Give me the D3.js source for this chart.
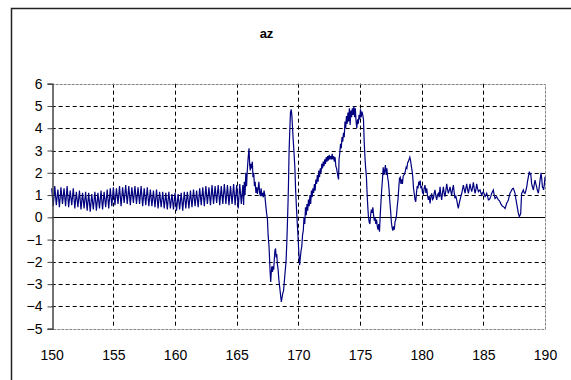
<!DOCTYPE html>
<html>
<head>
<meta charset="utf-8">
<script src="https://cdn.jsdelivr.net/npm/d3@7"></script>
<style>
  body { margin: 0; background: #fff; }
  svg { display: block; font-family: "Liberation Sans", Arial, sans-serif; }
</style>
</head>
<body>
<div id="app"></div>
<script>
// chart "az": acceleration trace, time 150..190
const title = "az"
const xTicks = [150, 155, 160, 165, 170, 175, 180, 185, 190]
const yTicks = [-5, -4, -3, -2, -1, 0, 1, 2, 3, 4, 5, 6]

const calmStart = 150
const calmStep = 0.125
const calmValues = [
  1.30,0.50,1.40,0.55,1.25,0.45,1.35,0.60,
  1.30,0.50,1.40,0.45,1.20,0.55,1.30,0.40,
  1.15,0.45,1.20,0.35,1.10,0.40,1.15,0.30,
  1.10,0.25,1.05,0.35,1.15,0.30,1.10,0.40,
  1.20,0.35,1.15,0.45,1.25,0.40,1.30,0.50,
  1.35,0.55,1.30,0.60,1.40,0.50,1.35,0.65,
  1.45,0.60,1.40,0.55,1.35,0.65,1.40,0.60,
  1.35,0.60,1.40,0.50,1.30,0.55,1.35,0.50,
  1.25,0.50,1.20,0.45,1.25,0.40,1.15,0.45,
  1.15,0.40,1.10,0.35,1.15,0.40,1.05,0.35,
  1.10,0.30,1.05,0.35,1.10,0.30,1.15,0.40,
  1.15,0.40,1.20,0.45,1.25,0.50,1.20,0.45,
  1.30,0.55,1.35,0.50,1.40,0.60,1.35,0.55,
  1.45,0.60,1.40,0.65,1.45,0.55,1.40,0.60,
  1.50,0.60,1.45,0.55,1.40,0.60,1.50,0.55,
  1.45,0.40,1.50,0.60
]

// the event part, [time, value]
const eventData = [
  [165.50,1.45],[165.56,0.55],[165.62,1.60],[165.68,1.00],[165.74,2.00],[165.80,1.40],
  [165.86,2.10],[165.92,2.60],[166.00,3.10],[166.05,2.40],[166.10,2.10],[166.15,2.40],
  [166.20,2.20],[166.27,2.50],[166.32,1.80],[166.38,2.00],[166.44,1.40],[166.50,1.60],
  [166.56,1.10],[166.62,1.35],[166.68,1.05],[166.74,1.30],[166.80,1.60],[166.86,1.10],
  [166.92,0.95],[166.98,1.30],[167.04,0.95],[167.10,1.10],[167.16,0.90],[167.22,1.20],
  [167.28,1.00],[167.34,0.65],[167.42,0.20],[167.49,-0.05],[167.55,-0.80],[167.62,-1.30],
  [167.67,-1.90],[167.71,-2.45],[167.76,-2.90],[167.80,-2.50],[167.85,-2.20],[167.90,-2.45],
  [167.95,-2.20],[168.00,-2.35],[168.05,-1.90],[168.10,-1.50],[168.15,-1.40],[168.20,-1.80],
  [168.25,-1.65],[168.30,-2.10],[168.36,-2.35],[168.42,-2.80],[168.50,-3.20],[168.56,-3.50],
  [168.62,-3.80],[168.68,-3.60],[168.74,-3.40],[168.80,-3.30],[168.86,-2.90],[168.92,-2.50],
  [169.00,-2.00],[169.06,-1.20],[169.11,-0.35],[169.16,0.60],[169.20,1.50],[169.25,3.00],
  [169.30,3.80],[169.36,4.70],[169.42,4.85],[169.47,4.60],[169.52,4.10],[169.58,3.50],
  [169.65,2.90],[169.72,2.20],[169.78,1.20],[169.85,0.40],[169.92,-0.35],[169.98,-0.90],
  [170.04,-1.60],[170.10,-2.15],[170.16,-1.80],[170.22,-1.50],[170.28,-1.30],[170.34,-0.80],
  [170.40,-0.60],[170.46,0.00],[170.52,-0.30],[170.58,0.45],[170.64,0.10],[170.70,0.60],
  [170.76,0.30],[170.82,0.80],[170.88,0.50],[170.94,1.00],[171.00,0.60],[171.06,1.20],
  [171.12,0.90],[171.18,1.30],[171.24,1.10],[171.30,1.50],[171.36,1.20],[171.42,1.70],
  [171.48,1.50],[171.54,1.90],[171.60,1.60],[171.66,2.10],[171.72,1.80],[171.78,2.20],
  [171.84,2.00],[171.90,2.40],[171.96,2.20],[172.02,2.50],[172.08,2.30],[172.14,2.60],
  [172.20,2.40],[172.26,2.70],[172.32,2.50],[172.38,2.75],[172.44,2.55],[172.50,2.80],
  [172.56,2.60],[172.62,2.75],[172.68,2.60],[172.74,2.85],[172.80,2.60],[172.86,2.75],
  [172.92,2.50],[172.98,2.70],[173.04,2.30],[173.10,2.20],[173.16,2.00],[173.22,1.80],
  [173.26,1.70],[173.30,2.60],[173.36,2.90],[173.42,3.30],[173.48,3.10],[173.54,3.60],
  [173.60,3.40],[173.66,3.80],[173.72,3.60],[173.78,4.30],[173.84,4.00],[173.90,4.55],
  [173.96,4.20],[174.02,4.70],[174.08,4.30],[174.14,4.90],[174.20,4.15],[174.26,4.80],
  [174.32,4.50],[174.38,4.90],[174.44,4.60],[174.50,5.00],[174.56,4.50],[174.62,4.90],
  [174.68,4.30],[174.74,4.00],[174.80,4.40],[174.86,4.20],[174.92,4.60],[174.98,4.40],
  [175.04,4.85],[175.10,4.50],[175.16,4.75],[175.22,4.60],[175.28,4.40],[175.34,3.40],
  [175.40,2.70],[175.46,2.20],[175.52,1.80],[175.58,1.00],[175.64,0.40],[175.68,0.05],
  [175.74,-0.20],[175.80,-0.30],[175.86,0.10],[175.92,0.35],[175.98,0.20],[176.04,0.45],
  [176.10,0.10],[176.16,-0.15],[176.22,0.00],[176.28,-0.30],[176.34,-0.10],[176.40,-0.40],
  [176.46,-0.55],[176.52,-0.30],[176.58,-0.65],[176.64,0.10],[176.70,0.70],[176.76,1.25],
  [176.82,1.70],[176.88,2.25],[176.94,1.90],[177.00,2.10],[177.06,2.35],[177.12,1.90],
  [177.18,2.20],[177.24,1.80],[177.30,1.60],[177.36,1.20],[177.42,0.70],[177.48,0.30],
  [177.54,-0.20],[177.60,-0.45],[177.66,-0.60],[177.72,-0.40],[177.78,-0.55],[177.84,-0.20],
  [177.90,-0.10],[177.96,0.10],[178.02,0.50],[178.08,0.80],[178.14,1.30],[178.20,1.75],
  [178.26,1.80],[178.32,1.50],[178.38,1.70],[178.44,1.50],[178.50,1.85],[178.56,1.90],
  [178.62,1.95],[178.68,2.10],[178.74,2.25],[178.80,2.20],[178.86,2.45],[178.92,2.50],
  [178.98,2.60],[179.04,2.70],[179.10,2.55],[179.16,2.30],[179.22,2.10],[179.28,1.80],
  [179.34,1.30],[179.40,1.05],[179.46,0.80],[179.52,0.70],[179.58,1.10],[179.64,1.40],
  [179.70,1.30],[179.76,1.60],[179.82,1.50],[179.88,1.65],[179.94,1.30],[180.00,1.40],
  [180.07,1.10],[180.14,1.05],[180.20,1.30],[180.27,1.45],[180.34,1.10],[180.41,1.30],
  [180.47,1.00],[180.54,0.78],[180.61,0.95],[180.68,0.63],[180.74,0.90],[180.81,1.08],
  [180.88,0.80],[180.95,0.85],[181.02,1.10],[181.08,1.23],[181.15,0.95],[181.22,0.78],
  [181.28,1.00],[181.35,1.08],[181.42,0.90],[181.49,1.37],[181.55,1.05],[181.62,0.78],
  [181.69,1.10],[181.76,1.37],[181.82,1.10],[181.89,0.93],[181.96,1.20],[182.03,1.50],
  [182.10,1.25],[182.16,1.08],[182.23,1.20],[182.30,1.37],[182.37,1.15],[182.43,1.00],
  [182.50,1.25],[182.57,1.45],[182.64,1.10],[182.70,0.85],[182.77,0.95],[182.84,0.78],
  [182.90,0.60],[182.97,0.40],[183.04,0.60],[183.11,0.78],[183.18,0.95],[183.25,1.08],
  [183.31,1.25],[183.38,1.45],[183.45,1.25],[183.52,1.08],[183.58,1.30],[183.65,1.50],
  [183.72,1.25],[183.79,1.08],[183.86,1.30],[183.92,1.50],[183.99,1.30],[184.06,1.15],
  [184.13,1.35],[184.19,1.57],[184.26,1.30],[184.33,1.08],[184.40,1.25],[184.46,1.50],
  [184.53,1.30],[184.60,1.15],[184.67,1.20],[184.73,1.23],[184.80,1.10],[184.87,1.00],
  [184.94,1.10],[185.00,1.15],[185.07,1.05],[185.14,0.93],[185.21,1.00],[185.27,1.08],
  [185.34,0.95],[185.41,0.78],[185.48,0.80],[185.54,0.85],[185.61,0.95],[185.68,1.08],
  [185.74,1.15],[185.81,1.23],[185.88,1.00],[185.95,0.85],[186.02,0.90],[186.08,0.93],
  [186.15,0.85],[186.22,0.78],[186.29,0.75],[186.35,0.70],[186.42,0.60],[186.49,0.55],
  [186.55,0.50],[186.62,0.48],[186.69,0.45],[186.76,0.40],[186.82,0.50],[186.89,0.63],
  [186.96,0.70],[187.03,0.78],[187.10,0.95],[187.16,1.08],[187.23,1.15],[187.30,1.23],
  [187.36,1.28],[187.43,1.30],[187.50,1.20],[187.57,1.08],[187.63,0.85],[187.70,0.63],
  [187.77,0.40],[187.84,0.18],[187.92,0.03],[187.98,0.10],[188.03,0.18],[188.07,0.70],
  [188.11,1.08],[188.18,1.15],[188.24,1.23],[188.31,1.10],[188.38,1.08],[188.45,1.20],
  [188.52,1.37],[188.58,1.60],[188.65,1.82],[188.73,2.05],[188.78,1.95],[188.84,1.97],
  [188.92,1.50],[188.99,1.35],[189.06,1.23],[189.12,1.45],[189.19,1.67],[189.26,1.50],
  [189.32,1.37],[189.39,1.20],[189.46,1.08],[189.53,1.35],[189.60,1.67],[189.68,2.00],
  [189.74,1.70],[189.79,1.37],[189.85,1.30],[189.89,1.23],[189.95,1.50],[190.00,1.82]
]

const series = calmValues.map((v, i) => [calmStart + i * calmStep, v]).concat(eventData)

const W = 571, H = 380
const svg = d3.select("#app").append("svg")
    .attr("width", W)
    .attr("height", H)

// outer chart frame
svg.append("rect")
    .attr("x", 11.5).attr("y", 8.5)
    .attr("width", 700).attr("height", 500)
    .attr("fill", "#fff")
    .attr("stroke", "#222")
    .attr("stroke-width", 1.5)

const x = d3.scaleLinear().domain([150, 190]).range([51.7, 545])
const y = d3.scaleLinear().domain([-5, 6]).range([328.7, 83.7])

svg.append("text")
    .attr("x", 266.5).attr("y", 38)
    .attr("text-anchor", "middle")
    .attr("font-size", 13)
    .attr("font-weight", "bold")
    .text(title)

// gridlines
const grid = svg.append("g")
grid.selectAll("line.h")
  .data(yTicks.filter(d => d !== 0 && d !== 6 && d !== -5))
  .join("line")
    .attr("class", "h")
    .attr("x1", x(150)).attr("x2", x(190))
    .attr("y1", d => Math.round(y(d)) + 0.5).attr("y2", d => Math.round(y(d)) + 0.5)
    .attr("stroke", "#000")
    .attr("stroke-dasharray", "4,3")
grid.selectAll("line.v")
  .data(xTicks.filter(d => d !== 150 && d !== 190))
  .join("line")
    .attr("class", "v")
    .attr("y1", y(6)).attr("y2", y(-5))
    .attr("x1", d => Math.round(x(d)) + 0.5).attr("x2", d => Math.round(x(d)) + 0.5)
    .attr("stroke", "#000")
    .attr("stroke-dasharray", "4,3")

// plot area border (top, right, bottom)
svg.append("path")
    .attr("d", `M${x(150)},${Math.round(y(6)) + 0.5}H${Math.round(x(190)) + 0.5}V${Math.round(y(-5)) + 0.5}H${x(150)}`)
    .attr("fill", "none")
    .attr("stroke", "#888")
    .attr("stroke-dasharray", "3,1")

// zero line
svg.append("line")
    .attr("x1", x(150)).attr("x2", x(190))
    .attr("y1", Math.round(y(0)) + 0.5).attr("y2", Math.round(y(0)) + 0.5)
    .attr("stroke", "#000")

// data
const line = d3.line().x(d => x(d[0])).y(d => y(d[1]))
svg.append("path")
    .datum(series)
    .attr("d", line)
    .attr("fill", "none")
    .attr("stroke", "#000080")
    .attr("stroke-width", 1.2)

// y axis
const yAxis = svg.append("g")
    .attr("transform", `translate(${Math.round(x(150)) + 0.5},0)`)
    .call(d3.axisLeft(y).tickValues(yTicks).tickSize(5).tickPadding(5).tickFormat(d3.format("d")))
yAxis.select(".domain").attr("stroke", "#444").attr("stroke-width", 1.5)
yAxis.selectAll(".tick line").attr("stroke", "#444")
yAxis.selectAll("text")
    .attr("font-size", 14)
    .attr("font-family", "Liberation Sans, Arial, sans-serif")
    .attr("fill", "#000")

// x labels along the bottom
const xAxis = svg.append("g")
    .attr("transform", `translate(0,${y(-5)})`)
    .call(d3.axisBottom(x).tickValues(xTicks).tickSize(0).tickPadding(21))
xAxis.select(".domain").remove()
xAxis.selectAll("text")
    .attr("font-size", 14)
    .attr("font-family", "Liberation Sans, Arial, sans-serif")
    .attr("fill", "#000")
</script>
</body>
</html>
